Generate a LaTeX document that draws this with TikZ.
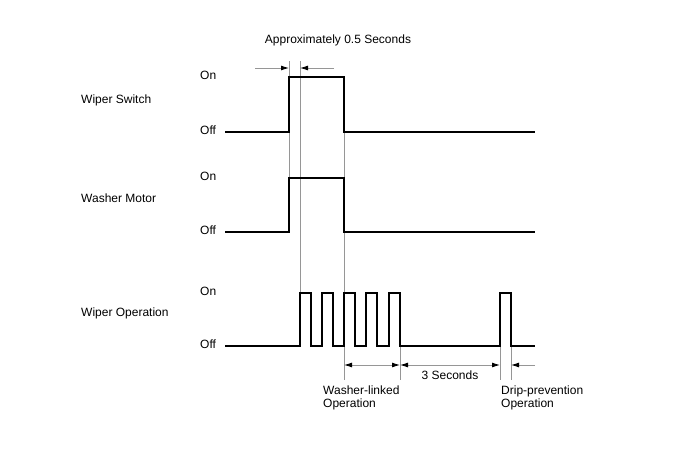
\documentclass[tikz,border=0pt]{standalone}
\usepackage{fontspec}
\setmainfont{Liberation Sans}
\usetikzlibrary{arrows.meta}
\definecolor{guide}{RGB}{150,150,150}

\begin{document}
\begin{tikzpicture}[x=1pt,y=-1pt,
    sig/.style={draw=black,line width=1.4pt,line join=miter},
    rule/.style={draw=guide,line width=0.9pt},
    dim/.style={draw=guide,line width=0.9pt,
                arrows={-Latex[length=8pt,width=5pt,color=black]}},
    dimboth/.style={dim,arrows={Latex[length=8pt,width=5pt,color=black]-Latex[length=8pt,width=5pt,color=black]}},
    txt/.style={inner sep=0pt,anchor=west,align=left,
                font=\fontsize{12}{13}\selectfont}]
    \useasboundingbox (0,0) rectangle (688,463);

    % signal names and levels
    \node[txt] (sw)  at (81,100) {Wiper Switch};
    \node[txt] (mot) at (81,198) {Washer Motor};
    \node[txt] (op)  at (81,313) {Wiper Operation};
    \foreach \n/\on/\off in {sw/75/130,mot/176/230,op/291/344} {
      \node[txt] (\n on)  at (200,\on)  {On};
      \node[txt] (\n off) at (200,\off) {Off};
    }

    % guide lines
    \draw[rule] (289,61) -- (289,232);
    \draw[rule] (300,61) -- (300,293);
    \draw[rule] (344,77) -- (344,380);
    \foreach \x in {400,500,511}
      \draw[rule] (\x,293) -- (\x,380);

    % waveforms
    \draw[sig] (225,132) -- (289,132) -- (289,77) -- (344,77) -- (344,132) -- (535,132);
    \draw[sig] (225,232) -- (289,232) -- (289,178) -- (344,178) -- (344,232) -- (535,232);
    \draw[sig] (225,346) foreach \p in {300,322,344,366,389,500} {
      -- (\p,346) -- (\p,293) -- (\p+11,293) -- (\p+11,346) } -- (535,346);

    % timing marks
    \coordinate (tl) at (255,68);  \coordinate (t1) at (289,68);
    \coordinate (tr) at (334,68);  \coordinate (t2) at (300,68);
    \draw[dim] (tl) -- (t1);
    \draw[dim] (tr) -- (t2);
    \node[txt,anchor=center] (half) at (338,40) {Approximately 0.5 Seconds};

    \coordinate (b1) at (344,365); \coordinate (b2) at (400,365);
    \coordinate (b3) at (500,365); \coordinate (b4) at (511,365);
    \coordinate (br) at (535,365);
    \draw[dimboth] (b1) -- (b2);
    \draw[dimboth] (b2) -- (b3);
    \draw[dim] (br) -- (b4);

    \node[txt,anchor=center] (three) at (450,375) {3 Seconds};
    \node[txt] (wl)   at (323,398) {Washer-linked\\Operation};
    \node[txt] (drip) at (501,398) {Drip-prevention\\Operation};
  \end{tikzpicture}
\end{document}
